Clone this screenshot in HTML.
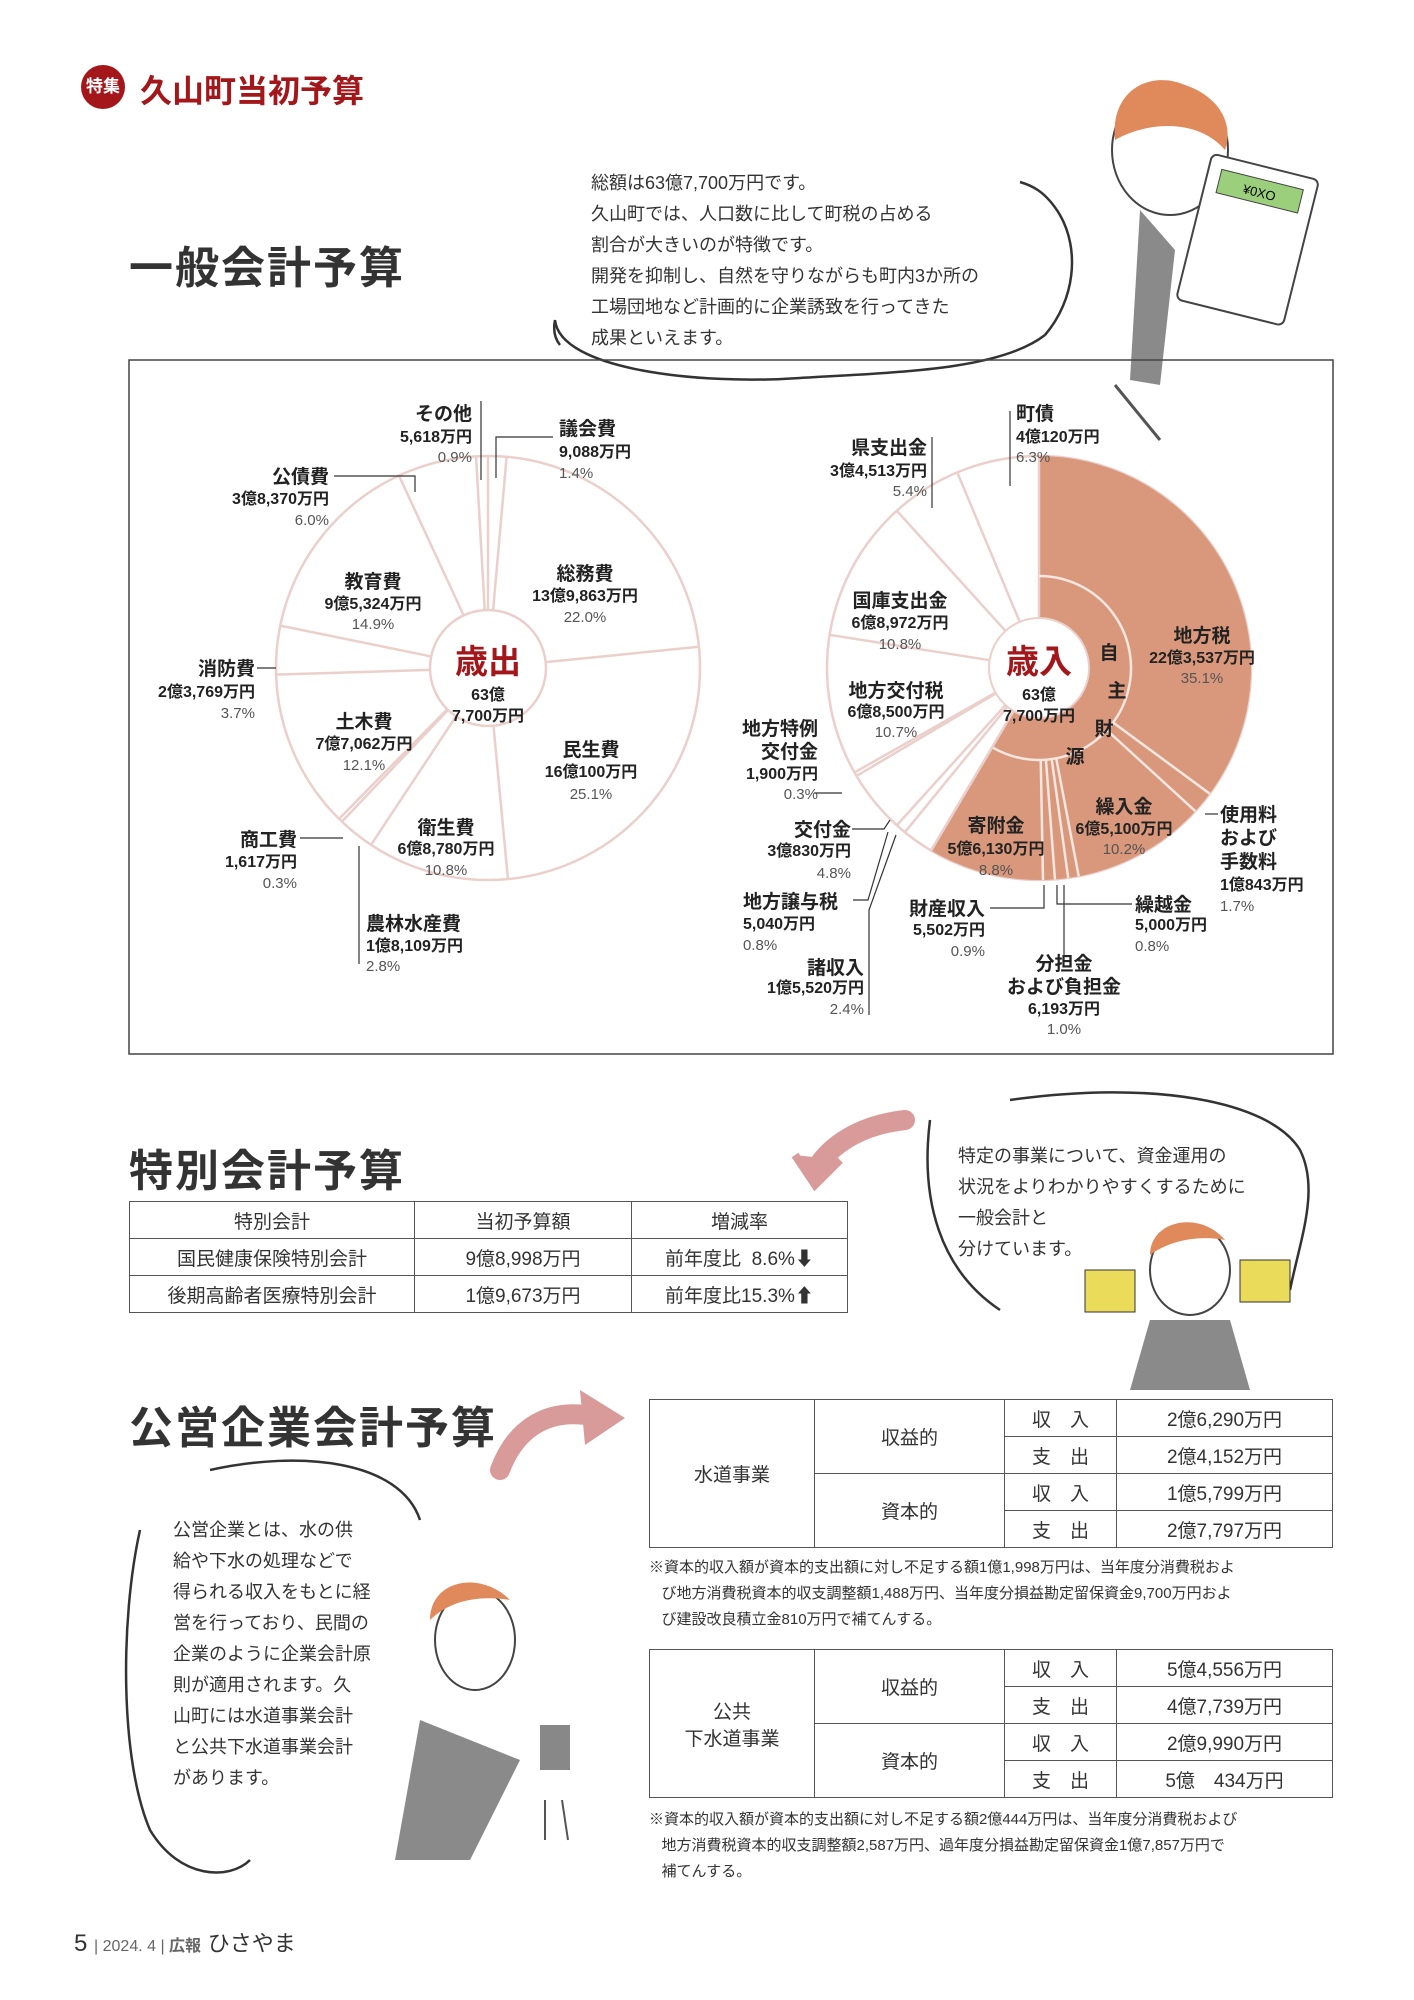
<!DOCTYPE html>
<html><head><meta charset="utf-8">
<style>
html,body{margin:0;padding:0;background:#fff}
body{width:1414px;height:2000px;position:relative;overflow:hidden;font-family:"Liberation Sans","Noto Sans CJK JP",sans-serif;color:#222}
.a{position:absolute;white-space:nowrap}
.h{font-size:44px;font-weight:bold;color:#333;letter-spacing:2px}
.hand{font-size:18px;color:#333;line-height:31px}
table{border-collapse:collapse;position:absolute;font-size:19px;color:#333}
td{border:1.5px solid #555;text-align:center;padding:0}
.note{font-size:15px;line-height:26px;color:#333}
</style></head><body>

<!-- header -->
<div class="a" style="left:81px;top:65px;width:44px;height:44px;border-radius:50%;background:#a3171b;color:#fff;font-size:17px;font-weight:bold;line-height:44px;text-align:center">特集</div>
<div class="a" style="left:140px;top:66px;font-size:32px;font-weight:bold;color:#a3171b">久山町当初予算</div>

<div class="a h" style="left:129px;top:232px">一般会計予算</div>
<div class="a hand" style="left:591px;top:168px">総額は63億7,700万円です。<br>久山町では、人口数に比して町税の占める<br>割合が大きいのが特徴です。<br>開発を抑制し、自然を守りながらも町内3か所の<br>工場団地など計画的に企業誘致を行ってきた<br>成果といえます。</div>

<svg class="a" style="left:0;top:0" width="1414" height="2000" id="svg">
 <!-- speech bubble top -->
 <path d="M555 320 C560 370 700 385 800 378 C900 372 1000 370 1045 335 M1045 335 C1075 300 1080 250 1060 215 C1045 190 1030 185 1020 182 M555 320 Q552 335 560 345" fill="none" stroke="#333" stroke-width="2.5"/>
 <!-- character top right -->
 <ellipse cx="1170" cy="150" rx="58" ry="65" fill="#fff" stroke="#444" stroke-width="2"/>
 <path d="M1115 140 C1110 90 1150 70 1185 85 C1215 95 1235 120 1225 150 C1200 120 1150 120 1115 140Z" fill="#e0895a"/>
 <path d="M1140 210 L1130 380 L1160 385 L1175 250 Z" fill="#8a8a8a"/>
 <g transform="rotate(14 1250 230)"><rect x="1195" y="165" width="110" height="150" rx="6" fill="#fff" stroke="#444" stroke-width="2"/><rect x="1208" y="178" width="84" height="24" fill="#9ccf7c" stroke="#444"/><text x="1250" y="196" font-size="13" text-anchor="middle">¥0XO</text></g>
 <line x1="1115" y1="385" x2="1160" y2="440" stroke="#555" stroke-width="3"/>
 <!-- main chart box -->
 <rect x="129" y="360" width="1204" height="694" fill="none" stroke="#444" stroke-width="1.5"/>
 <g id="pies"></g>
 <g font-family="Liberation Sans,Noto Sans CJK JP,sans-serif" fill="#222">
  <!-- left labels -->
  <g font-size="15" text-anchor="end">
   <text x="472" y="420" font-size="19" font-weight="bold">その他</text><text x="472" y="442" font-weight="bold" font-size="16">5,618万円</text><text x="472" y="462" fill="#555">0.9%</text>
   <text x="329" y="483" font-size="19" font-weight="bold">公債費</text><text x="329" y="504" font-weight="bold" font-size="16">3億8,370万円</text><text x="329" y="525" fill="#555">6.0%</text>
   <text x="255" y="675" font-size="19" font-weight="bold">消防費</text><text x="255" y="697" font-weight="bold" font-size="16">2億3,769万円</text><text x="255" y="718" fill="#555">3.7%</text>
   <text x="297" y="846" font-size="19" font-weight="bold">商工費</text><text x="297" y="867" font-weight="bold" font-size="16">1,617万円</text><text x="297" y="888" fill="#555">0.3%</text>
  </g>
  <g font-size="15" text-anchor="start">
   <text x="559" y="435" font-size="19" font-weight="bold">議会費</text><text x="559" y="457" font-weight="bold" font-size="16">9,088万円</text><text x="559" y="478" fill="#555">1.4%</text>
   <text x="366" y="930" font-size="19" font-weight="bold">農林水産費</text><text x="366" y="951" font-weight="bold" font-size="16">1億8,109万円</text><text x="366" y="971" fill="#555">2.8%</text>
  </g>
  <g font-size="15" text-anchor="middle">
   <text x="373" y="588" font-size="19" font-weight="bold">教育費</text><text x="373" y="609" font-weight="bold" font-size="16">9億5,324万円</text><text x="373" y="629" fill="#555">14.9%</text>
   <text x="585" y="580" font-size="19" font-weight="bold">総務費</text><text x="585" y="601" font-weight="bold" font-size="16">13億9,863万円</text><text x="585" y="622" fill="#555">22.0%</text>
   <text x="364" y="728" font-size="19" font-weight="bold">土木費</text><text x="364" y="749" font-weight="bold" font-size="16">7億7,062万円</text><text x="364" y="770" fill="#555">12.1%</text>
   <text x="591" y="756" font-size="19" font-weight="bold">民生費</text><text x="591" y="777" font-weight="bold" font-size="16">16億100万円</text><text x="591" y="799" fill="#555">25.1%</text>
   <text x="446" y="834" font-size="19" font-weight="bold">衛生費</text><text x="446" y="854" font-weight="bold" font-size="16">6億8,780万円</text><text x="446" y="875" fill="#555">10.8%</text>
   <text x="488" y="673" font-size="33" font-weight="bold" fill="#a3171b">歳出</text><text x="488" y="700" font-weight="bold" font-size="16">63億</text><text x="488" y="721" font-weight="bold" font-size="16">7,700万円</text>
   <!-- right -->
   <text x="1039" y="673" font-size="33" font-weight="bold" fill="#a3171b">歳入</text><text x="1039" y="700" font-weight="bold" font-size="16">63億</text><text x="1039" y="721" font-weight="bold" font-size="16">7,700万円</text>
   <text x="900" y="607" font-size="19" font-weight="bold">国庫支出金</text><text x="900" y="628" font-weight="bold" font-size="16">6億8,972万円</text><text x="900" y="649" fill="#555">10.8%</text>
   <text x="896" y="697" font-size="19" font-weight="bold">地方交付税</text><text x="896" y="717" font-weight="bold" font-size="16">6億8,500万円</text><text x="896" y="737" fill="#555">10.7%</text>
   <text x="1202" y="642" font-size="19" font-weight="bold">地方税</text><text x="1202" y="663" font-weight="bold" font-size="16">22億3,537万円</text><text x="1202" y="683" fill="#555">35.1%</text>
   <text x="996" y="832" font-size="19" font-weight="bold">寄附金</text><text x="996" y="854" font-weight="bold" font-size="16">5億6,130万円</text><text x="996" y="875" fill="#555">8.8%</text>
   <text x="1124" y="813" font-size="19" font-weight="bold">繰入金</text><text x="1124" y="834" font-weight="bold" font-size="16">6億5,100万円</text><text x="1124" y="854" fill="#555">10.2%</text>
   <text x="1064" y="970" font-size="19" font-weight="bold">分担金</text><text x="1064" y="993" font-size="19" font-weight="bold">および負担金</text><text x="1064" y="1014" font-weight="bold" font-size="16">6,193万円</text><text x="1064" y="1034" fill="#555">1.0%</text>
   <g font-size="19" font-weight="bold"><text x="1109" y="659">自</text><text x="1117" y="697">主</text><text x="1104" y="735">財</text><text x="1075" y="763">源</text></g>
  </g>
  <g font-size="15" text-anchor="end">
   <text x="927" y="454" font-size="19" font-weight="bold">県支出金</text><text x="927" y="476" font-weight="bold" font-size="16">3億4,513万円</text><text x="927" y="496" fill="#555">5.4%</text>
   <text x="818" y="735" font-size="19" font-weight="bold">地方特例</text><text x="818" y="758" font-size="19" font-weight="bold">交付金</text><text x="818" y="779" font-weight="bold" font-size="16">1,900万円</text><text x="818" y="799" fill="#555">0.3%</text>
   <text x="851" y="836" font-size="19" font-weight="bold">交付金</text><text x="851" y="856" font-weight="bold" font-size="16">3億830万円</text><text x="851" y="878" fill="#555">4.8%</text>
   <text x="985" y="915" font-size="19" font-weight="bold">財産収入</text><text x="985" y="935" font-weight="bold" font-size="16">5,502万円</text><text x="985" y="956" fill="#555">0.9%</text>
   <text x="864" y="974" font-size="19" font-weight="bold">諸収入</text><text x="864" y="993" font-weight="bold" font-size="16">1億5,520万円</text><text x="864" y="1014" fill="#555">2.4%</text>
  </g>
  <g font-size="15" text-anchor="start">
   <text x="1016" y="420" font-size="19" font-weight="bold">町債</text><text x="1016" y="442" font-weight="bold" font-size="16">4億120万円</text><text x="1016" y="462" fill="#555">6.3%</text>
   <text x="1220" y="821" font-size="19" font-weight="bold">使用料</text><text x="1220" y="844" font-size="19" font-weight="bold">および</text><text x="1220" y="868" font-size="19" font-weight="bold">手数料</text><text x="1220" y="890" font-weight="bold" font-size="16">1億843万円</text><text x="1220" y="911" fill="#555">1.7%</text>
   <text x="743" y="908" font-size="19" font-weight="bold">地方譲与税</text><text x="743" y="929" font-weight="bold" font-size="16">5,040万円</text><text x="743" y="950" fill="#555">0.8%</text>
   <text x="1135" y="911" font-size="19" font-weight="bold">繰越金</text><text x="1135" y="930" font-weight="bold" font-size="16">5,000万円</text><text x="1135" y="951" fill="#555">0.8%</text>
  </g>
  <!-- leaders -->
  <g stroke="#333" stroke-width="1.2" fill="none">
   <path d="M481 401 V480"/><path d="M496 478 V437 H553"/><path d="M334 476 H415 V492"/><path d="M257 668 H276"/><path d="M300 838 H343"/><path d="M359 846 V964"/>
   <path d="M1010 411 V486"/><path d="M932 437 V508"/><path d="M814 793 H842"/><path d="M852 829 H884 L890 820"/><path d="M853 900 H868 L888 832"/><path d="M990 908 H1044 V885"/><path d="M1132 904 H1057 V885"/><path d="M1064 960 V885"/><path d="M869 1015 V910 L896 835"/><path d="M1205 814 H1218"/>
  </g>
 </g>
 <!-- pink arrows -->
 <path d="M905 1120 C860 1125 830 1145 815 1170" fill="none" stroke="#d99a9a" stroke-width="20" stroke-linecap="round"/>
 <path d="M795 1155 L815 1185 L840 1160" fill="#d99a9a" stroke="#d99a9a" stroke-width="8"/>
 <path d="M500 1470 C515 1430 545 1410 585 1415" fill="none" stroke="#d99a9a" stroke-width="20" stroke-linecap="round"/>
 <path d="M580 1390 L625 1418 L585 1445 Z" fill="#d99a9a"/>
 <!-- right bubble -->
 <path d="M930 1120 C920 1200 940 1270 1000 1310 M1010 1100 C1150 1080 1270 1100 1300 1150 C1320 1190 1300 1240 1290 1290" fill="none" stroke="#333" stroke-width="2.5"/>
 <ellipse cx="1190" cy="1270" rx="40" ry="45" fill="#fff" stroke="#444" stroke-width="2"/>
 <path d="M1150 1255 C1150 1220 1200 1210 1225 1240 C1200 1235 1170 1240 1150 1255Z" fill="#e0895a"/>
 <path d="M1150 1320 L1130 1390 L1250 1390 L1230 1320Z" fill="#8a8a8a"/>
 <rect x="1085" y="1270" width="50" height="42" fill="#eadb5a" stroke="#333"/><rect x="1240" y="1260" width="50" height="42" fill="#eadb5a" stroke="#333"/>
 <!-- left bubble -->
 <path d="M140 1530 C120 1620 120 1760 150 1830 C180 1880 230 1880 250 1860 M210 1470 C300 1450 400 1460 420 1520" fill="none" stroke="#333" stroke-width="2.5"/>
 <ellipse cx="475" cy="1640" rx="40" ry="50" fill="#fff" stroke="#444" stroke-width="2"/>
 <path d="M430 1620 C430 1580 480 1570 510 1600 C480 1595 450 1600 430 1620Z" fill="#e0895a"/>
 <path d="M420 1720 L395 1860 L470 1860 L520 1760 Z" fill="#8a8a8a"/>
 <path d="M545 1800 L545 1840 M562 1800 L568 1840" stroke="#555" stroke-width="2"/>
 <rect x="540" y="1725" width="30" height="45" fill="#888"/>
</svg>

<div class="a h" style="left:129px;top:1135px">特別会計予算</div>
<table style="left:129px;top:1201px;width:719px">
 <tr style="height:37px"><td style="width:284px">特別会計</td><td style="width:216px">当初予算額</td><td>増減率</td></tr>
 <tr style="height:37px"><td>国民健康保険特別会計</td><td>9億8,998万円</td><td>前年度比&nbsp; 8.6%<b>⬇</b></td></tr>
 <tr style="height:37px"><td>後期高齢者医療特別会計</td><td>1億9,673万円</td><td>前年度比15.3%<b>⬆</b></td></tr>
</table>
<div class="a hand" style="left:958px;top:1141px">特定の事業について、資金運用の<br>状況をよりわかりやすくするために<br>一般会計と<br>分けています。</div>

<div class="a h" style="left:129px;top:1392px">公営企業会計予算</div>
<div class="a hand" style="left:173px;top:1515px">公営企業とは、水の供<br>給や下水の処理などで<br>得られる収入をもとに経<br>営を行っており、民間の<br>企業のように企業会計原<br>則が適用されます。久<br>山町には水道事業会計<br>と公共下水道事業会計<br>があります。</div>

<table style="left:649px;top:1399px;width:684px">
 <tr style="height:37px"><td rowspan="4" style="width:164px">水道事業</td><td rowspan="2" style="width:189px">収益的</td><td style="width:111px">収　入</td><td>2億6,290万円</td></tr>
 <tr style="height:37px"><td>支　出</td><td>2億4,152万円</td></tr>
 <tr style="height:37px"><td rowspan="2">資本的</td><td>収　入</td><td>1億5,799万円</td></tr>
 <tr style="height:37px"><td>支　出</td><td>2億7,797万円</td></tr>
</table>
<div class="a note" style="left:649px;top:1555px">※資本的収入額が資本的支出額に対し不足する額1億1,998万円は、当年度分消費税およ<br>&nbsp;&nbsp;&nbsp;び地方消費税資本的収支調整額1,488万円、当年度分損益勘定留保資金9,700万円およ<br>&nbsp;&nbsp;&nbsp;び建設改良積立金810万円で補てんする。</div>
<table style="left:649px;top:1649px;width:684px">
 <tr style="height:37px"><td rowspan="4" style="width:164px">公共<br>下水道事業</td><td rowspan="2" style="width:189px">収益的</td><td style="width:111px">収　入</td><td>5億4,556万円</td></tr>
 <tr style="height:37px"><td>支　出</td><td>4億7,739万円</td></tr>
 <tr style="height:37px"><td rowspan="2">資本的</td><td>収　入</td><td>2億9,990万円</td></tr>
 <tr style="height:37px"><td>支　出</td><td>5億　434万円</td></tr>
</table>
<div class="a note" style="left:649px;top:1807px">※資本的収入額が資本的支出額に対し不足する額2億444万円は、当年度分消費税および<br>&nbsp;&nbsp;&nbsp;地方消費税資本的収支調整額2,587万円、過年度分損益勘定留保資金1億7,857万円で<br>&nbsp;&nbsp;&nbsp;補てんする。</div>

<div class="a" style="left:74px;top:1926px;font-size:24px;color:#333">5 <span style="font-size:16px;color:#666">| 2024. 4 | <b>広報</b></span> <span style="font-size:22px">ひさやま</span></div>

<script>
(function(){
var ns="http://www.w3.org/2000/svg",g=document.getElementById("pies");
function P(cx,cy,r,f){var a=f*2*Math.PI;return [cx+r*Math.sin(a),cy-r*Math.cos(a)];}
function el(t,at){var e=document.createElementNS(ns,t);for(var k in at)e.setAttribute(k,at[k]);g.appendChild(e);return e;}
function sector(cx,cy,r0,r1,f0,f1,fill){var a=P(cx,cy,r1,f0),b=P(cx,cy,r1,f1),c=P(cx,cy,r0,f1),d=P(cx,cy,r0,f0),l=(f1-f0)>0.5?1:0;
 el("path",{d:"M"+a+" A"+r1+" "+r1+" 0 "+l+" 1 "+b+" L"+c+" A"+r0+" "+r0+" 0 "+l+" 0 "+d+"Z",fill:fill,stroke:"none"});}
var line="#ebcfcb";
// left pie
var L=[1.4,22.0,25.1,10.8,2.8,0.3,12.1,3.7,14.9,6.0,0.9],cx=488,cy=668,R=212,r0=58;
el("circle",{cx:cx,cy:cy,r:R,fill:"#fff",stroke:line,"stroke-width":2.5});
el("circle",{cx:cx,cy:cy,r:r0,fill:"#fff",stroke:line,"stroke-width":2.5});
var s=0;for(var i=0;i<L.length;i++){var p=P(cx,cy,r0,s/100),q=P(cx,cy,R,s/100);el("line",{x1:p[0],y1:p[1],x2:q[0],y2:q[1],stroke:line,"stroke-width":2.5});s+=L[i];}
// right pie
var Rv=[35.1,1.7,10.2,0.8,1.0,0.9,8.8,2.4,0.8,4.8,0.3,10.7,10.8,5.4,6.3];cx=1039;
el("circle",{cx:cx,cy:cy,r:R,fill:"#fff",stroke:line,"stroke-width":2.5});
sector(cx,cy,50,R,0,0.585,"#d9987c");
el("circle",{cx:cx,cy:cy,r:50,fill:"#fff",stroke:line,"stroke-width":2});
s=0;for(i=0;i<Rv.length;i++){var f=s/100,ri=(f>0&&f<0.586)?92:50;var p=P(cx,cy,ri,f),q=P(cx,cy,R,f);
 el("line",{x1:p[0],y1:p[1],x2:q[0],y2:q[1],stroke:f>0&&f<0.586?"#f5e6df":line,"stroke-width":2.5});s+=Rv[i];}
var a=P(cx,cy,92,0),b=P(cx,cy,92,0.585);
el("path",{d:"M"+a+" A92 92 0 1 1 "+b,fill:"none",stroke:"#f5e6df","stroke-width":2.5});
var o1=P(cx,cy,R,0.585),o2=P(cx,cy,50,0.585);el("line",{x1:o1[0],y1:o1[1],x2:o2[0],y2:o2[1],stroke:line,"stroke-width":2.5});
})();
</script>
</body></html>
